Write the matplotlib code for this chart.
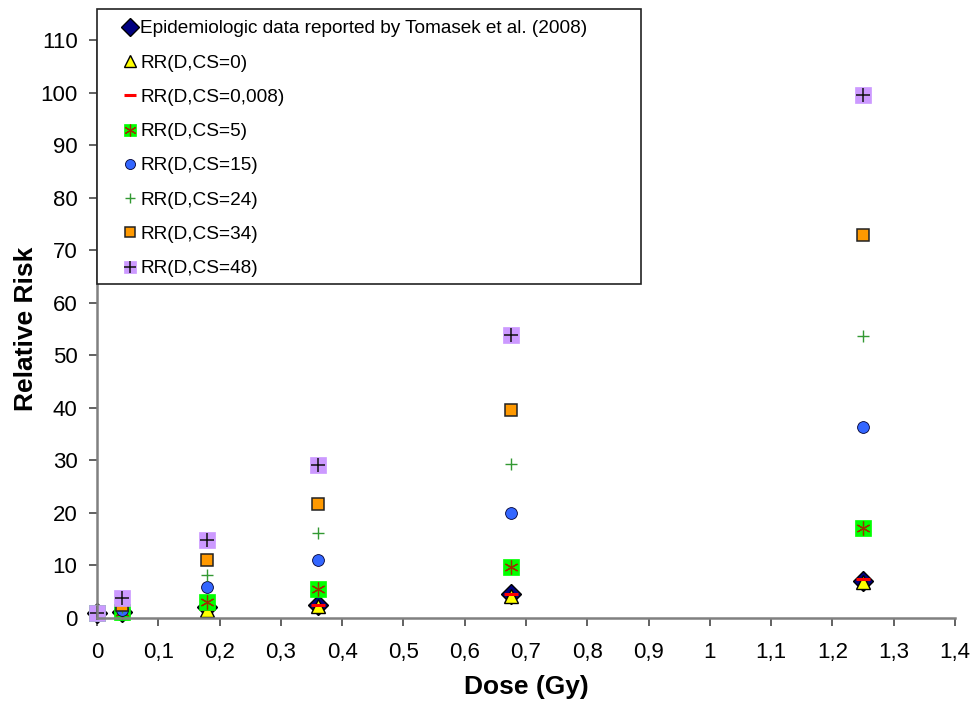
import numpy as np
import matplotlib.pyplot as plt
from matplotlib.patches import Rectangle

plt.rcParams["font.family"] = ["Liberation Sans", "DejaVu Sans"]

# Dose values (Gy)
dose = [0, 0.04, 0.18, 0.36, 0.675, 1.25]

# Relative risk values
rr_epi = [1.0, 1.1, 2.0, 2.4, 4.6, 7.0]
rr_cs0 = [1.0, 1.05, 1.6, 2.3, 4.2, 6.9]
rr_cs0008 = [1.0, 1.06, 1.7, 2.5, 4.6, 7.4]
rr_cs5 = [1.0, 1.2, 3.0, 5.5, 9.7, 17.1]
rr_cs15 = [1.0, 1.6, 5.9, 11.0, 20.0, 36.3]
rr_cs24 = [1.0, 2.0, 8.2, 16.1, 29.3, 53.6]
rr_cs34 = [1.0, 2.5, 11.0, 21.7, 39.5, 72.8]
rr_cs48 = [1.0, 3.8, 14.8, 29.2, 53.8, 99.5]

labels = [
    "Epidemiologic data reported by Tomasek et al. (2008)",
    "RR(D,CS=0)",
    "RR(D,CS=0,008)",
    "RR(D,CS=5)",
    "RR(D,CS=15)",
    "RR(D,CS=24)",
    "RR(D,CS=34)",
    "RR(D,CS=48)",
]

xticks = np.round(np.arange(0, 1.41, 0.1), 1)
xtick_labels = [("%g" % v).replace(".", ",") for v in xticks]
yticks = np.arange(0, 111, 10)

fig = plt.figure(figsize=(9.76, 7.04), dpi=100)
ax = fig.add_axes([0.0994, 0.1222, 0.8791, 0.8210])

kw = dict(linestyle="none", clip_on=False)
h_epi, = ax.plot(dose, rr_epi, marker="D", ms=10.5, mfc="#000080", mec="black", mew=1, **kw)
h_cs0, = ax.plot(dose, rr_cs0, marker="^", ms=9.5, mfc="#FFFF00", mec="black", mew=1, **kw)
h_cs0008, = ax.plot(dose, rr_cs0008, marker="_", ms=10, mec="#FF0000", mew=2.2, **kw)
h_cs5a, = ax.plot(dose, rr_cs5, marker="s", ms=11, mfc="#00FF00", mec="#00FF00", mew=0.5, **kw)
h_cs5b, = ax.plot(dose, rr_cs5, marker=(6, 2, 0), ms=10, mec="#993300", mew=0.9, **kw)
h_cs15, = ax.plot(dose, rr_cs15, marker="o", ms=8.5, mfc="#3366FF", mec="#000033", mew=0.6, **kw)
h_cs24, = ax.plot(dose, rr_cs24, marker="+", ms=9, mec="#339933", mew=1.0, **kw)
h_cs34, = ax.plot(dose, rr_cs34, marker="s", ms=8.5, mfc="#FF9900", mec="#222222", mew=1.1, **kw)
h_cs48a, = ax.plot(dose, rr_cs48, marker="s", ms=11, mfc="#CC99FF", mec="#CC99FF", mew=0.5, **kw)
h_cs48b, = ax.plot(dose, rr_cs48, marker="+", ms=10, mec="#111111", mew=1.1, **kw)

ax.set_xlim(0, 1.4)
ax.set_ylim(0, 110)
ax.set_xticks(xticks)
ax.set_xticklabels(xtick_labels)
ax.set_yticks(yticks)

for side in ["top", "right"]:
    ax.spines[side].set_visible(False)
for side in ["left", "bottom"]:
    ax.spines[side].set_color("#808080")
    ax.spines[side].set_linewidth(1.8)
ax.tick_params(direction="out", length=6, width=1.3, color="#555555", labelsize=16)
ax.tick_params(axis="x", pad=11)
ax.tick_params(axis="y", pad=8)

ax.set_xlabel("Dose (Gy)", fontsize=19, fontweight="bold", labelpad=9)
ax.set_ylabel("Relative Risk", fontsize=19, fontweight="bold", labelpad=2)

# legend box drawn separately so its size matches the original
fig.patches.append(Rectangle((0.0994, 0.5966), 0.5574, 0.3906, transform=fig.transFigure,
                             facecolor="white", edgecolor="#222222", linewidth=1.2, zorder=5))

handles = [h_epi, h_cs0, h_cs0008, (h_cs5a, h_cs5b), h_cs15, h_cs24, h_cs34, (h_cs48a, h_cs48b)]
leg = fig.legend(handles, labels, loc="upper left", bbox_to_anchor=(0.110, 0.993),
                 frameon=False, fontsize=13.7, handlelength=0.8, handletextpad=0.12,
                 labelspacing=0.89, borderpad=0.3, markerscale=0.85)
leg.set_zorder(6)

fig.savefig("out.png", dpi=100)
